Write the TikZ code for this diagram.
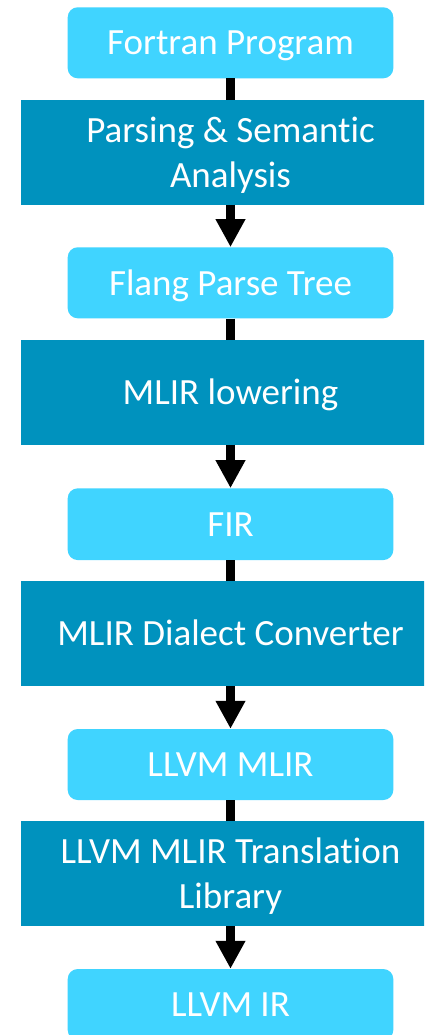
\documentclass[tikz,border=0pt]{standalone}
\usepackage{fontspec}
\setmainfont{Carlito}[Ligatures=NoCommon]
\usetikzlibrary{arrows.meta}
\definecolor{lightbox}{HTML}{40D4FF}
\definecolor{darkbox}{HTML}{0092BE}
\tikzset{
  boxtext/.style={text=white, inner sep=0pt, font=\fontsize{37}{45.5}\selectfont, align=center},
  datanode/.style={boxtext, fill=lightbox, draw=none, rounded corners=10pt, minimum width=325.6pt, text height=24.4pt, text depth=0pt},
  passnode/.style={boxtext, fill=darkbox, draw=none, minimum width=419pt, minimum height=104.7pt},
  oneline/.style={text height=24.4pt, text depth=0pt},
  twoline/.style={text height=70.8pt, text depth=0pt},
  joinline/.style={line width=9pt},
  flowarrow/.style={line width=9pt, -{Triangle[width=28pt,length=28pt]}}
}
\begin{document}
\begin{tikzpicture}[x=1pt, y=-1pt]
\clip (0,0) rectangle (424,1035);
\useasboundingbox (0,0) rectangle (424,1035);
\fill[white] (0,0) rectangle (424,1035);
\node[datanode, minimum height=71pt] (l1) at (230.5,42.8) {Fortran Program};
\node[passnode, twoline] (d1) at (230.5,152.3) {Parsing \& Semantic\\Analysis};
\node[datanode, minimum height=71pt] (l2) at (230.5,282.8) {Flang Parse Tree};
\node[passnode, oneline] (d2) at (230.5,392.3) {MLIR lowering};
\node[datanode, minimum height=71.7pt] (l3) at (230.5,524.2) {FIR};
\node[passnode, oneline] (d3) at (230.5,633.3) {MLIR Dialect Converter};
\node[datanode, minimum height=71pt] (l4) at (230.5,764.5) {LLVM MLIR};
\node[passnode, twoline] (d4) at (230.5,873.3) {LLVM MLIR Translation\\Library};
\node[datanode, minimum height=71pt] (l5) at (230.5,1004.5) {LLVM IR};
\draw[joinline] (l1.south) -- (d1.north);
\draw[flowarrow] (d1.south) -- (l2.north);
\draw[joinline] (l2.south) -- (d2.north);
\draw[flowarrow] (d2.south) -- (l3.north);
\draw[joinline] (l3.south) -- (d3.north);
\draw[flowarrow] (d3.south) -- (l4.north);
\draw[joinline] (l4.south) -- (d4.north);
\draw[flowarrow] (d4.south) -- (l5.north);
\end{tikzpicture}
\end{document}
